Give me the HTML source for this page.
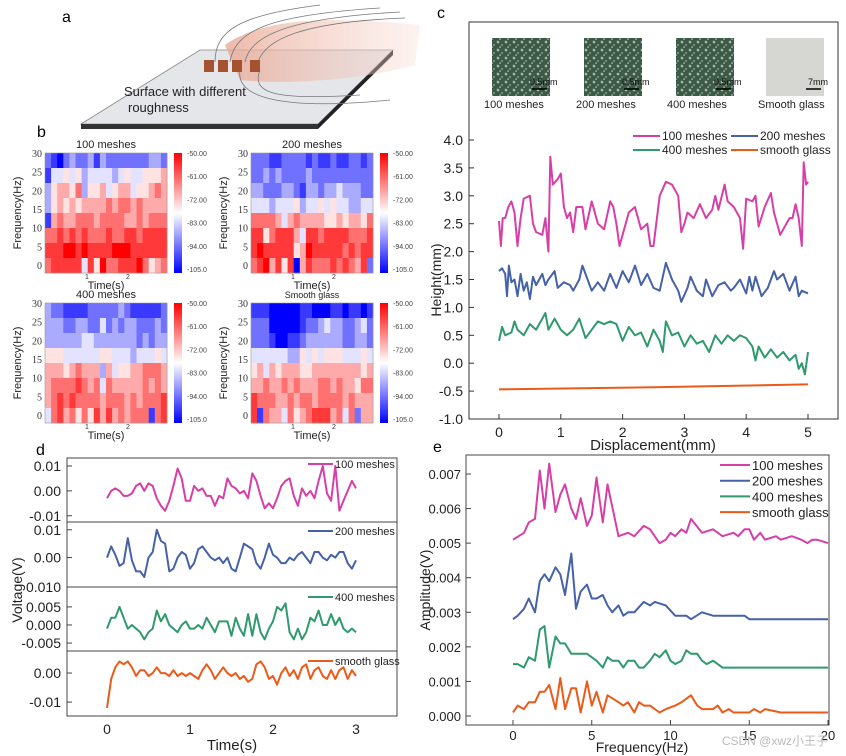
<!DOCTYPE html>
<html><head><meta charset="utf-8"><style>
html,body{margin:0;padding:0;background:#fff;}
svg{display:block;font-family:"Liberation Sans",Arial,sans-serif;}
.serif{font-family:"Liberation Serif",serif;}
</style></head><body>
<svg id="fig" width="846" height="756" viewBox="0 0 846 756" xmlns="http://www.w3.org/2000/svg">
<defs>
<linearGradient id="cbar" x1="0" y1="1" x2="0" y2="0">
<stop offset="0" stop-color="#0000ff"/><stop offset="0.5" stop-color="#ffffff"/><stop offset="1" stop-color="#ff0000"/>
</linearGradient>
<linearGradient id="hand" x1="0" y1="0" x2="1" y2="0">
<stop offset="0" stop-color="#e9a894" stop-opacity="0.8"/><stop offset="1" stop-color="#f6d6cc" stop-opacity="0.3"/>
</linearGradient>
<pattern id="rough" width="8" height="8" patternUnits="userSpaceOnUse">
<rect width="8" height="8" fill="#3d5a48"/><circle cx="2" cy="2" r="1.3" fill="#a9c0a8"/><circle cx="6" cy="5" r="1" fill="#7f9c86"/><circle cx="4" cy="7" r="0.8" fill="#c8d6b0"/>
</pattern>
</defs>

<!-- Panel a -->
<g>
<text x="62" y="22" font-size="16">a</text>
<polygon points="81,124 318,124 393,50 200,50" fill="#e4e6ea" stroke="#888" stroke-width="0.8"/>
<polygon points="81,124 318,124 318,129 81,129" fill="#333"/>
<polygon points="318,124 393,50 393,55 318,129" fill="#222"/>
<path d="M225,45 C260,20 320,15 420,25 L415,65 C360,80 290,85 240,80 Z" fill="url(#hand)"/>
<path d="M215,62 C215,30 240,15 320,5 M230,62 C235,30 270,15 380,8 M245,62 C250,35 290,18 400,12 M258,62 C265,40 300,22 405,18 M260,70 C250,95 280,100 360,95 M240,70 C235,100 290,110 390,100" stroke="#777" stroke-width="0.8" fill="none"/>
<g fill="#a5522e">
<rect x="204" y="60" width="10" height="12"/><rect x="218" y="60" width="10" height="12"/><rect x="232" y="60" width="10" height="12"/><rect x="250" y="60" width="10" height="12"/>
</g>
<text x="124" y="96" font-size="13" fill="#222">Surface with different</text>
<text x="128" y="112" font-size="13" fill="#222">roughness</text>
</g>

<text x="37" y="137" font-size="16">b</text>
<text x="437" y="18" font-size="16">c</text>
<text x="36" y="455" font-size="16">d</text>
<text x="433" y="452" font-size="16">e</text>

<!-- Panel c images -->
<g>
<rect x="492" y="38" width="58" height="58" fill="url(#rough)"/>
<rect x="584" y="38" width="58" height="58" fill="url(#rough)"/>
<rect x="676" y="38" width="58" height="58" fill="url(#rough)"/>
<rect x="766" y="38" width="58" height="58" fill="#d6d7d3"/>
<g stroke="#000" stroke-width="1.5"><line x1="532" y1="89" x2="547" y2="89"/><line x1="624" y1="89" x2="639" y2="89"/><line x1="716" y1="89" x2="731" y2="89"/><line x1="806" y1="89" x2="821" y2="89"/></g>
<g font-size="9" fill="#111"><text x="530" y="85">0.5mm</text><text x="622" y="85">0.5mm</text><text x="714" y="85">0.5mm</text><text x="808" y="85">7mm</text></g>
<g font-size="11" fill="#222"><text x="484" y="108">100 meshes</text><text x="576" y="108">200 meshes</text><text x="667" y="108">400 meshes</text><text x="758" y="108">Smooth glass</text></g>
</g>
<rect x="469" y="22" width="369" height="397" fill="none" stroke="#333" stroke-width="1"/>
<g id="pc"></g>
<g id="pb"></g>
<g id="pd"></g>
<g id="pe"></g>
<text x="828" y="745" font-size="12" fill="#bbb" text-anchor="end">CSDN @xwz小王子</text>
</svg>
<script>
// ===== Panel c data =====
const cPinkX=[0,0.03,0.06,0.1,0.15,0.2,0.25,0.3,0.35,0.4,0.5,0.55,0.6,0.7,0.75,0.8,0.83,0.87,0.95,1.0,1.05,1.1,1.15,1.2,1.25,1.35,1.4,1.5,1.6,1.7,1.8,1.85,1.9,1.95,2.05,2.1,2.2,2.25,2.3,2.4,2.45,2.5,2.6,2.7,2.8,2.9,2.95,3.0,3.05,3.15,3.25,3.35,3.45,3.5,3.55,3.65,3.7,3.8,3.9,3.95,4.0,4.1,4.15,4.2,4.3,4.4,4.45,4.55,4.6,4.7,4.75,4.8,4.85,4.9,4.93,4.97,5.0];
const cPinkY=[2.55,2.1,2.6,2.6,2.8,2.9,2.7,2.1,2.6,2.95,3.0,2.5,2.35,2.3,2.6,2.0,3.7,3.2,3.3,3.4,2.8,2.6,2.7,2.35,2.8,2.8,2.4,2.9,2.5,2.4,2.9,2.8,2.5,2.1,2.5,2.7,2.8,2.6,2.4,2.5,2.1,2.1,3.0,3.25,3.2,3.0,2.35,2.5,2.7,2.6,2.85,2.6,2.75,3.0,2.75,3.2,2.9,2.8,2.6,2.05,2.95,2.9,3.0,2.45,2.8,3.05,2.7,2.3,2.4,2.6,2.6,2.85,2.6,2.1,3.6,3.2,3.25];
const cBlueX=[0,0.05,0.1,0.13,0.16,0.2,0.25,0.3,0.35,0.4,0.45,0.5,0.55,0.6,0.7,0.75,0.8,0.9,0.95,1.05,1.15,1.2,1.3,1.35,1.4,1.5,1.6,1.7,1.8,1.9,2.0,2.1,2.2,2.3,2.4,2.5,2.6,2.7,2.8,2.9,2.95,3.05,3.1,3.2,3.3,3.35,3.45,3.55,3.65,3.75,3.8,3.9,4.0,4.05,4.1,4.15,4.25,4.35,4.45,4.5,4.6,4.7,4.8,4.85,4.9,5.0];
const cBlueY=[1.65,1.7,1.6,1.2,1.75,1.45,1.5,1.2,1.6,1.3,1.45,1.15,1.55,1.4,1.6,1.4,1.5,1.65,1.35,1.45,1.4,1.3,1.5,1.75,1.6,1.3,1.45,1.3,1.6,1.35,1.65,1.45,1.75,1.4,1.6,1.35,1.3,1.8,1.5,1.3,1.1,1.35,1.55,1.3,1.2,1.5,1.2,1.4,1.45,1.3,1.35,1.5,1.25,1.55,1.3,1.55,1.2,1.35,1.65,1.5,1.6,1.3,1.55,1.2,1.3,1.25];
const cGreenX=[0,0.05,0.1,0.2,0.25,0.3,0.4,0.5,0.6,0.7,0.75,0.8,0.9,1.0,1.1,1.2,1.3,1.4,1.5,1.6,1.7,1.8,1.9,2.0,2.1,2.2,2.3,2.4,2.5,2.6,2.65,2.7,2.8,2.9,3.0,3.1,3.2,3.3,3.4,3.5,3.6,3.7,3.8,3.9,4.0,4.1,4.15,4.2,4.3,4.4,4.5,4.6,4.7,4.8,4.85,4.9,4.95,5.0];
const cGreenY=[0.4,0.65,0.5,0.55,0.75,0.6,0.5,0.7,0.6,0.8,0.9,0.6,0.8,0.6,0.5,0.6,0.8,0.45,0.6,0.75,0.7,0.75,0.7,0.4,0.65,0.5,0.55,0.3,0.6,0.4,0.2,0.75,0.5,0.55,0.3,0.5,0.35,0.4,0.2,0.5,0.35,0.5,0.4,0.5,0.45,0.3,0.05,0.3,0.1,0.25,0.1,0.2,0.05,0.15,-0.1,0.0,-0.2,0.2];
const cOrangeX=[0,2.5,5];
const cOrangeY=[-0.47,-0.43,-0.38];
const cYTicks=[-1.0,-0.5,0.0,0.5,1.0,1.5,2.0,2.5,3.0,3.5,4.0];
const cXTicks=[0,1,2,3,4,5];

// ===== Panel b data (0 = -105 blue ... 9 = -50 red), rows top (30Hz) to bottom (0Hz) =====
const hmTitles=["100 meshes","200 meshes","400 meshes","Smooth glass"];
const hm100=["21023223132222222332","14454534444345445556","35665735564566455676","35656566667677676666","16766777677776676777","77878787778778878888","88899898888999888888","78888848597788897567"];
const hm200=["22211222212112112212","22323222232222222222","33222332133233433322","44434445344545443344","77776467666655656657","88578886488788887778","89888885698888878788","78968580687778787682"];
const hm400=["32211112222232111112","33322332242323322232","33333344333333323233","55544444455444344454","66656766636455667776","67777876747666667676","67878777767776767778","47867575868676777178"];
const hmGlass=["11100000110001101101","22200000122343322342","22210011233333322332","44444433545455544454","56465666556666666656","66766767666776766577","87776676776777767666","81766475678886747266"];
const cbarLabels=["-50.00","-61.00","-72.00","-83.00","-94.00","-105.0"];
const hmYTicks=[0,5,10,15,20,25,30];

// ===== Panel d data =====
const dTime=[0,0.05,0.1,0.15,0.2,0.25,0.3,0.35,0.4,0.45,0.5,0.55,0.6,0.65,0.7,0.75,0.8,0.85,0.9,0.95,1.0,1.05,1.1,1.15,1.2,1.25,1.3,1.35,1.4,1.45,1.5,1.55,1.6,1.65,1.7,1.75,1.8,1.85,1.9,1.95,2.0,2.05,2.1,2.15,2.2,2.25,2.3,2.35,2.4,2.45,2.5,2.55,2.6,2.65,2.7,2.75,2.8,2.85,2.9,2.95,3.0];
const d100=[-0.003,0.0,0.001,0.0,-0.002,-0.002,-0.001,0.002,0.003,0.0,0.003,0.002,-0.003,-0.006,-0.008,-0.004,0.002,0.009,0.005,-0.004,-0.004,0.002,0.0,0.001,-0.002,-0.002,-0.006,-0.002,-0.003,0.005,0.002,0.001,-0.001,0.0,-0.003,0.007,0.004,-0.002,-0.007,-0.005,-0.007,-0.003,0.002,0.004,0.005,-0.002,-0.006,0.001,-0.002,0.0,-0.003,0.004,0.010,-0.001,-0.004,0.010,-0.008,-0.004,0.0,0.004,0.001];
const d200=[0.0,0.004,0.001,-0.003,-0.002,0.007,-0.001,-0.005,-0.005,-0.007,0.0,0.002,0.010,0.006,0.005,-0.005,-0.004,0.0,0.002,0.001,-0.004,-0.002,0.003,0.004,0.002,0.0,-0.001,0.0,-0.002,0.0,-0.004,-0.005,0.0,0.005,0.004,0.003,-0.002,-0.004,0.0,0.005,0.001,0.0,-0.002,-0.002,0.0,-0.001,0.001,0.002,0.0,-0.002,0.002,0.002,0.0,-0.001,0.001,0.0,0.002,0.002,-0.002,-0.004,-0.001];
const d400=[-0.001,0.002,0.002,0.005,0.002,-0.001,0.0,-0.001,-0.002,-0.004,-0.002,-0.001,0.004,0.001,0.003,0.0,-0.001,-0.002,0.0,0.001,-0.001,-0.001,0.0,-0.001,0.002,0.0,-0.002,0.001,0.001,0.001,-0.003,0.002,-0.001,-0.003,0.003,-0.003,0.003,-0.002,-0.004,-0.001,0.001,0.005,0.004,0.006,-0.002,-0.004,-0.001,-0.004,-0.002,0.002,0.001,0.004,0.0,0.0,0.003,0.0,0.002,-0.001,-0.002,-0.001,-0.002];
const dGlass=[-0.012,-0.002,0.002,0.004,0.003,0.004,0.002,-0.001,0.001,0.001,-0.001,0.0,0.002,0.0,0.0,-0.001,0.001,-0.001,0.0,-0.001,0.0,-0.001,-0.002,0.001,0.003,0.001,-0.002,0.0,0.002,0.0,-0.001,0.0,-0.002,-0.001,-0.003,-0.002,0.003,0.004,0.002,-0.002,-0.001,-0.004,0.0,0.002,-0.001,0.001,-0.002,0.002,0.003,-0.002,0.001,0.002,-0.001,-0.002,0.001,-0.002,0.001,0.002,-0.002,0.001,-0.001];
const dXTicks=[0,1,2,3];

// ===== Panel e data =====
const ePinkX=[0,0.7,1.0,1.4,1.7,2.0,2.3,2.7,3.0,3.3,3.7,4.0,4.3,4.7,5.0,5.3,5.7,6.0,6.7,7.3,7.7,8.3,8.7,9.3,9.7,10,10.3,10.7,11,11.3,12,12.7,13.3,14,14.3,14.7,15,15.3,15.7,16,16.7,17,17.7,18.3,18.7,19,19.3,20];
const ePinkY=[0.0051,0.0053,0.0056,0.0057,0.0071,0.006,0.0073,0.0059,0.0064,0.0067,0.006,0.0057,0.0063,0.0055,0.0058,0.0069,0.0056,0.0067,0.0052,0.0053,0.0052,0.0055,0.0054,0.0050,0.0051,0.0053,0.0052,0.0054,0.0053,0.0057,0.0053,0.0054,0.0052,0.0053,0.0052,0.0054,0.0054,0.0051,0.0053,0.0051,0.0052,0.0051,0.0052,0.0051,0.0050,0.0051,0.0051,0.0050];
const eBlueX=[0,0.3,0.7,1.0,1.4,1.7,2.0,2.3,2.7,3.0,3.3,3.7,4.0,4.3,4.7,5.0,5.3,5.7,6.0,6.3,6.7,7.0,7.3,7.7,8.3,8.7,9.0,9.7,10.3,11,11.3,12,12.7,13.3,14,14.7,15,16,17,18,19,20];
const eBlueY=[0.0028,0.0029,0.0031,0.0034,0.0030,0.0039,0.0041,0.0039,0.0043,0.0041,0.0035,0.0047,0.0031,0.0036,0.0038,0.0034,0.0034,0.0035,0.0032,0.0030,0.0032,0.0029,0.0030,0.0030,0.0033,0.0032,0.0033,0.0032,0.0029,0.0029,0.0028,0.0030,0.0029,0.0029,0.0029,0.0029,0.0028,0.0028,0.0028,0.0028,0.0028,0.0028];
const eGreenX=[0,0.3,0.7,1.0,1.4,1.7,2.0,2.3,2.7,3.0,3.3,3.7,4.0,4.7,5.3,5.7,6.0,6.3,6.7,7.0,7.3,7.7,8.0,8.3,8.7,9.0,9.3,9.7,10,10.3,10.7,11,11.3,11.7,12,12.3,12.7,13.3,14,15,16,17,18,19,20];
const eGreenY=[0.0015,0.0015,0.0014,0.0017,0.0016,0.0025,0.0026,0.0014,0.0023,0.0021,0.0021,0.0018,0.0018,0.0018,0.0016,0.0014,0.0017,0.0016,0.0016,0.0014,0.0016,0.0016,0.0014,0.0014,0.0016,0.0018,0.0017,0.0019,0.0016,0.0015,0.0016,0.0019,0.0018,0.0018,0.0016,0.0015,0.0016,0.0014,0.0014,0.0014,0.0014,0.0014,0.0014,0.0014,0.0014];
const eOrangeX=[0,0.3,0.7,1.0,1.4,1.7,2.0,2.3,2.7,3.0,3.3,3.7,4.0,4.3,4.7,5.0,5.3,5.7,6.0,6.7,7.0,7.3,7.7,8.0,8.3,8.7,9.3,9.7,10.3,10.7,11.3,11.7,12,12.7,13,13.3,13.7,14,15,15.3,15.7,16,17,18,19,20];
const eOrangeY=[0.0001,0.0003,0.0002,0.0004,0.0004,0.0007,0.0007,0.0009,0.0002,0.0011,0.0002,0.0008,0.0008,0.0001,0.0010,0.0003,0.0007,0.0001,0.0006,0.0004,0.0003,0.0004,0.0001,0.0004,0.0003,0.0003,0.0001,0.0002,0.0003,0.0004,0.0006,0.0003,0.0002,0.0002,0.0003,0.0001,0.0002,0.0001,0.0001,0.0002,0.0001,0.0002,0.0001,0.0001,0.0001,0.0001];
const eYTicks=[0,0.001,0.002,0.003,0.004,0.005,0.006,0.007];
const eXTicks=[0,5,10,15,20];

const seriesNames=["100 meshes","200 meshes","400 meshes","smooth glass"];
const COLORS=["#d63fa7","#4562a8","#2f9a6e","#ec5a1a"];
const NS="http://www.w3.org/2000/svg";

function mk(parent,tag,attrs,txt){
  const e=document.createElementNS(NS,tag);
  for(const k in attrs) e.setAttribute(k,attrs[k]);
  if(txt!==undefined) e.textContent=txt;
  parent.appendChild(e);
  return e;
}
function lin(d0,d1,r0,r1){return v=>r0+(v-d0)*(r1-r0)/(d1-d0);}
function pathFrom(xs,ys,sx,sy){return xs.map((x,i)=>(i?"L":"M")+sx(x).toFixed(1)+","+sy(ys[i]).toFixed(1)).join("");}

// ---------- Panel c ----------
(function(){
  const g=document.getElementById('pc');
  const sx=lin(0,5,499,808), sy=lin(-1,4,419,140);
  mk(g,'line',{x1:469,y1:419,x2:838,y2:419,stroke:'#333'});
  cYTicks.forEach(v=>{
    const t=mk(g,'text',{x:463,y:sy(v)+5,'font-size':14,'text-anchor':'end',fill:'#222'},v.toFixed(1));
    
    
    mk(g,'line',{x1:469,y1:sy(v),x2:474,y2:sy(v),stroke:'#333'});
  });
  cXTicks.forEach(v=>{
    const t=mk(g,'text',{x:sx(v),y:437,'font-size':14,'text-anchor':'middle',fill:'#222'},String(v));
    
    
    mk(g,'line',{x1:sx(v),y1:419,x2:sx(v),y2:414,stroke:'#333'});
  });
  const xt=mk(g,'text',{x:653,y:450,'font-size':15,'text-anchor':'middle',fill:'#222'},'Displacement(mm)');
  
  
  const yt=mk(g,'text',{x:0,y:0,'font-size':14,'text-anchor':'middle',fill:'#222',transform:'translate(441,280) rotate(-90)'},'Height(mm)');
  
  
  const sets=[[cPinkX,cPinkY],[cBlueX,cBlueY],[cGreenX,cGreenY],[cOrangeX,cOrangeY]];
  sets.forEach((s,i)=>{
    const p=mk(g,'path',{d:pathFrom(s[0],s[1],sx,sy),fill:'none',stroke:COLORS[i],'stroke-width':2,'stroke-linejoin':'round'});
    
    
  });
  const lp=[[633,136],[731,136],[633,150],[731,150]];
  seriesNames.forEach((n,i)=>{
    const lg=mk(g,'g',{});
    
    
    mk(lg,'line',{x1:lp[i][0],y1:lp[i][1],x2:lp[i][0]+27,y2:lp[i][1],stroke:COLORS[i],'stroke-width':2});
    mk(lg,'text',{x:lp[i][0]+29,y:lp[i][1]+4,'font-size':12,fill:'#222'},n);
  });
})();

// ---------- Panel b ----------
(function(){
  const g=document.getElementById('pb');
  const panels=[[hm100,45,153],[hm200,251,153],[hm400,45,303],[hmGlass,251,303]];
  function col(v){
    const t=v/9;
    if(t<0.5){const k=t/0.5;return `rgb(${Math.round(255*k)},${Math.round(255*k)},255)`;}
    const k=(t-0.5)/0.5;return `rgb(255,${Math.round(255*(1-k))},${Math.round(255*(1-k))})`;
  }
  panels.forEach((p,pi)=>{
    const data=p[0],x0=p[1],y0=p[2],W=122,H=120;
    const hg=mk(g,'g',{});
    
    
    const rows=data.length,cols=data[0].length;
    const cw=W/cols,ch=H/rows;
    data.forEach((r,ri)=>{
      for(let ci=0;ci<cols;ci++){
        const c=mk(hg,'rect',{x:(x0+ci*cw).toFixed(2),y:(y0+ri*ch).toFixed(2),width:(cw+0.4).toFixed(2),height:(ch+0.4).toFixed(2),fill:col(+r[ci])});
        
        
      }
    });
    mk(hg,'rect',{x:x0,y:y0,width:W,height:H,fill:'none',stroke:'#999','stroke-width':0.6});
    const sy=lin(0,30,y0+112,y0+0);
    hmYTicks.forEach(v=>{
      const t=mk(hg,'text',{x:x0-3,y:sy(v)+4,'font-size':10,'text-anchor':'end',fill:'#333','class':'serif'},String(v));
      
      
    });
    const tt=mk(hg,'text',{x:x0+W/2,y:y0-5,'font-size':pi==3?9:11,'text-anchor':'middle',fill:'#222'},hmTitles[pi]);
    
    
    const xt=mk(hg,'text',{x:x0+W/2,y:y0+H+16,'font-size':11,'text-anchor':'middle',fill:'#222'},'Time(s)');
    
    
    mk(hg,'text',{x:x0+40,y:y0+H+6,'font-size':7,fill:'#333'},'1');
    mk(hg,'text',{x:x0+81,y:y0+H+6,'font-size':7,fill:'#333'},'2');
    const yt=mk(hg,'text',{x:0,y:0,'font-size':11,'text-anchor':'middle',fill:'#222',transform:`translate(${x0-24},${y0+60}) rotate(-90)`},'Frequency(Hz)');
    
    
    const cb=mk(hg,'rect',{x:x0+129,y:y0,width:8,height:H,fill:'url(#cbar)'});
    
    
    cbarLabels.forEach((l,i)=>{
      const t=mk(hg,'text',{x:x0+142,y:y0+3+i*(H-4)/5,'font-size':7,fill:'#444'},l);
      
      
    });
  });
})();

// ---------- Panel d ----------
(function(){
  const g=document.getElementById('pd');
  const sx=lin(0,3,107,356);
  const subs=[
    {data:d100,top:458,bot:522,d0:-0.0125,d1:0.0132,ticks:[[0.01,'0.01'],[0,'0.00'],[-0.01,'-0.01']],ly:464},
    {data:d200,top:522,bot:587,d0:-0.0106,d1:0.0128,ticks:[[0.01,'0.01'],[0,'0.00']],ly:531},
    {data:d400,top:587,bot:651,d0:-0.0072,d1:0.0105,ticks:[[0.005,'0.005'],[0,'0.000'],[-0.005,'-0.005']],ly:597},
    {data:dGlass,top:651,bot:716,d0:-0.0148,d1:0.0076,ticks:[[0,'0.00'],[-0.01,'-0.01']],ly:661}
  ];
  subs.forEach((s,i)=>{
    const sg=mk(g,'g',{});
    
    
    const sy=lin(s.d0,s.d1,s.bot,s.top);
    mk(sg,'rect',{x:67,y:s.top,width:330,height:s.bot-s.top,fill:'none',stroke:'#444','stroke-width':1});
    s.ticks.forEach(t=>{
      const tx=mk(sg,'text',{x:61,y:sy(t[0])+5,'font-size':14,'text-anchor':'end',fill:'#222'},t[1]);
      
      
      mk(sg,'line',{x1:67,y1:sy(t[0]),x2:72,y2:sy(t[0]),stroke:'#444'});
    });
    const p=mk(sg,'path',{d:pathFrom(dTime,s.data,sx,sy),fill:'none',stroke:COLORS[i],'stroke-width':2,'stroke-linejoin':'round'});
    
    
    mk(sg,'line',{x1:308,y1:s.ly,x2:333,y2:s.ly,stroke:COLORS[i],'stroke-width':2});
    const lt=mk(sg,'text',{x:335,y:s.ly+4,'font-size':11,fill:'#222'},seriesNames[i]);
    
    
  });
  const t0=mk(g,'text',{x:67,y:545,'font-size':14,'text-anchor':'start',fill:'#222'},'');
  const ex=mk(g,'text',{x:61,y:592,'font-size':14,'text-anchor':'end',fill:'#222'},'0.010');
  
  
  dXTicks.forEach(v=>{
    const t=mk(g,'text',{x:sx(v),y:734,'font-size':14,'text-anchor':'middle',fill:'#222'},String(v));
    
    
  });
  const xt=mk(g,'text',{x:232,y:750,'font-size':15,'text-anchor':'middle',fill:'#222'},'Time(s)');
  
  
  const yt=mk(g,'text',{x:0,y:0,'font-size':14,'text-anchor':'middle',fill:'#222',transform:'translate(22,590) rotate(-90)'},'Voltage(V)');
  
  
})();

// ---------- Panel e ----------
(function(){
  const g=document.getElementById('pe');
  const sx=lin(0,20,513,828), sy=lin(0,0.007,716,474);
  mk(g,'rect',{x:466,y:455,width:363,height:270,fill:'none',stroke:'#444','stroke-width':1});
  eYTicks.forEach(v=>{
    const t=mk(g,'text',{x:461,y:sy(v)+5,'font-size':13,'text-anchor':'end',fill:'#222'},v.toFixed(3));
    
    
    mk(g,'line',{x1:466,y1:sy(v),x2:471,y2:sy(v),stroke:'#444'});
  });
  eXTicks.forEach(v=>{
    const t=mk(g,'text',{x:sx(v),y:740,'font-size':13,'text-anchor':'middle',fill:'#222'},String(v));
    
    
    mk(g,'line',{x1:sx(v),y1:725,x2:sx(v),y2:720,stroke:'#444'});
  });
  const xt=mk(g,'text',{x:642,y:752,'font-size':14,'text-anchor':'middle',fill:'#222'},'Frequency(Hz)');
  
  
  const yt=mk(g,'text',{x:0,y:0,'font-size':14,'text-anchor':'middle',fill:'#222',transform:'translate(430,590) rotate(-90)'},'Amplitude(V)');
  
  
  const sets=[[ePinkX,ePinkY],[eBlueX,eBlueY],[eGreenX,eGreenY],[eOrangeX,eOrangeY]];
  sets.forEach((s,i)=>{
    const p=mk(g,'path',{d:pathFrom(s[0],s[1],sx,sy),fill:'none',stroke:COLORS[i],'stroke-width':2,'stroke-linejoin':'round'});
    
    
  });
  seriesNames.forEach((n,i)=>{
    const y=465+i*15.7;
    const lg=mk(g,'g',{});
    
    
    mk(lg,'line',{x1:720,y1:y,x2:750,y2:y,stroke:COLORS[i],'stroke-width':2});
    mk(lg,'text',{x:752,y:y+5,'font-size':13,fill:'#222'},n);
  });
})();
</script>
</body></html>
